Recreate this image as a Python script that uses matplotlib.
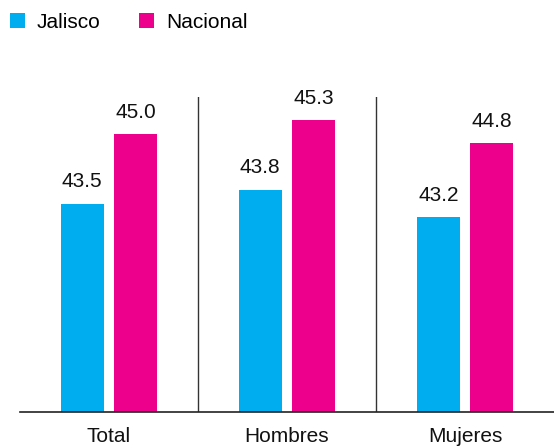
import matplotlib
matplotlib.use("Agg")
import matplotlib.pyplot as plt
import numpy as np

categories = ["Total", "Hombres", "Mujeres"]
series_names = ["Jalisco", "Nacional"]
jalisco = [43.5, 43.8, 43.2]
nacional = [45.0, 45.3, 44.8]
colors = ["#00AEEF", "#EC008C"]

plt.rcParams['font.family'] = ['Liberation Sans', 'DejaVu Sans']

fig = plt.figure(figsize=(5.54, 4.47), dpi=100)
ax = fig.add_axes([20/554, 35/447, 1 - 20/554, (412-97)/447])

x = np.arange(len(categories))
w = 0.24
off = 0.15
b1 = ax.bar(x - off, jalisco, width=w, color=colors[0], label=series_names[0])
b2 = ax.bar(x + off, nacional, width=w, color=colors[1], label=series_names[1])

ax.set_ylim(39.0, 45.8)
ax.set_xlim(-0.5, 2.5)

for bars, vals in ((b1, jalisco), (b2, nacional)):
    for b, v in zip(bars, vals):
        ax.annotate(f"{v:.1f}", (b.get_x() + b.get_width()/2, v),
                    xytext=(0, 9), textcoords="offset points",
                    ha="center", va="bottom", fontsize=15, color="#111111")

for sx in [0.5, 1.5]:
    ax.axvline(sx, color="#333333", lw=1.0)

for s in ["top", "right", "left"]:
    ax.spines[s].set_visible(False)
ax.spines["bottom"].set_color("#222222")
ax.spines["bottom"].set_linewidth(1.2)
ax.set_yticks([])
ax.set_xticks(x)
ax.set_xticklabels(categories, fontsize=15, color="#111111")
ax.tick_params(axis="x", length=0, pad=11)

leg = fig.legend(handles=[b1, b2], labels=series_names, loc="upper left",
                 bbox_to_anchor=(0.0, 1.0 - 2.5/447), ncol=2, frameon=False,
                 fontsize=15, handlelength=0.68, handleheight=0.68,
                 handletextpad=0.6, columnspacing=1.85, borderaxespad=0.1)

fig.savefig("out.png", dpi=100)
